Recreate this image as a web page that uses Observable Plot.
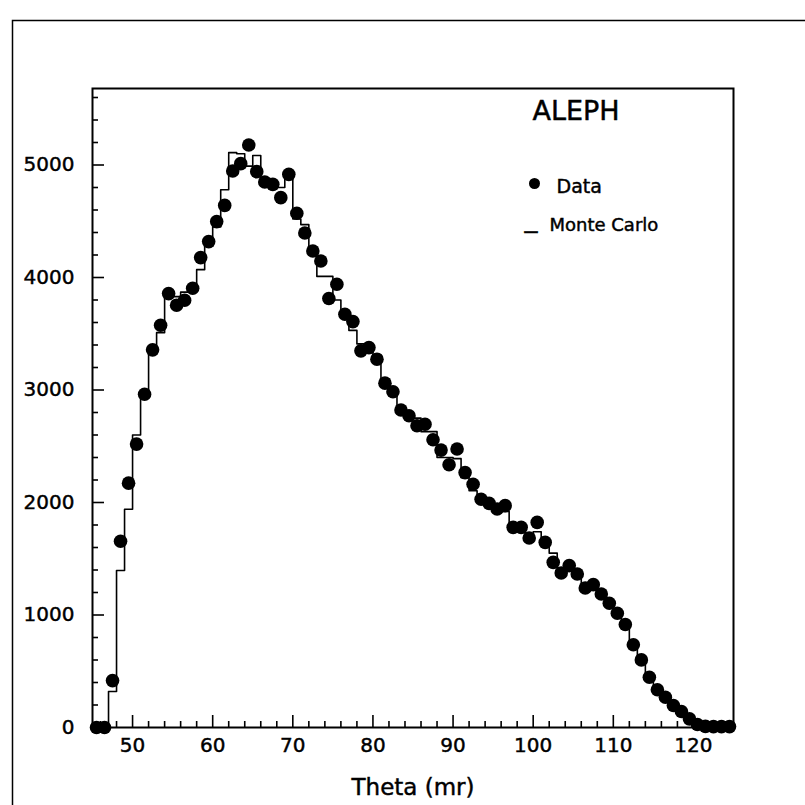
<!DOCTYPE html>
<html>
<head>
<meta charset="utf-8">
<script src="https://cdn.jsdelivr.net/npm/d3@7"></script>
<script src="https://cdn.jsdelivr.net/npm/@observablehq/plot@0.6"></script>
<style>
  html, body { margin: 0; padding: 0; background: #fff; }
  #chart svg { display: block; }
  #chart svg text { stroke: black; stroke-width: 0.45px; }
</style>
</head>
<body>
<div id="chart"></div>
<script>
// Bin centres (mr)
const thetaCenters = [45.5,46.5,47.5,48.5,49.5,50.5,51.5,52.5,53.5,54.5,55.5,56.5,57.5,58.5,59.5,60.5,61.5,62.5,63.5,64.5,65.5,66.5,67.5,68.5,69.5,70.5,71.5,72.5,73.5,74.5,75.5,76.5,77.5,78.5,79.5,80.5,81.5,82.5,83.5,84.5,85.5,86.5,87.5,88.5,89.5,90.5,91.5,92.5,93.5,94.5,95.5,96.5,97.5,98.5,99.5,100.5,101.5,102.5,103.5,104.5,105.5,106.5,107.5,108.5,109.5,110.5,111.5,112.5,113.5,114.5,115.5,116.5,117.5,118.5,119.5,120.5,121.5,122.5,123.5,124.5];

// Data (dots)
const dataCounts = [0,0,417,1655,2172,2519,2962,3357,3576,3857,3754,3798,3904,4177,4319,4497,4641,4947,5012,5178,4941,4849,4828,4710,4917,4571,4395,4236,4147,3813,3940,3673,3608,3348,3377,3274,3061,2984,2822,2771,2682,2695,2558,2466,2336,2475,2266,2162,2029,1992,1942,1972,1779,1779,1685,1823,1646,1468,1374,1439,1365,1240,1270,1187,1104,1015,915,735,601,447,335,269,195,142,77,27,10,8,8,8];

// Monte Carlo (histogram)
const mcCounts = [0,0,320,1395,1940,2600,2930,3320,3510,3850,3830,3870,3900,4070,4280,4450,4780,5110,5100,4990,5085,4860,4800,4800,4930,4520,4470,4270,4010,4010,3800,3700,3530,3410,3400,3270,3100,2960,2830,2780,2750,2630,2630,2400,2400,2390,2220,2105,2050,1990,1920,1920,1820,1800,1700,1740,1650,1550,1420,1400,1360,1270,1250,1180,1100,1000,950,760,600,450,350,270,200,140,80,30,15,10,5,5];

const binWidth = 1;
const xDomain = [45, 125];
const yDomain = [0, 5680];

const xMajorTicks = [50,60,70,80,90,100,110,120];
const xMinorTicks = [46,48,52,54,56,58,62,64,66,68,72,74,76,78,82,84,86,88,92,94,96,98,102,104,106,108,112,114,116,118,122,124];
const yMajorTicks = [0,1000,2000,3000,4000,5000];
const yMinorTicks = [200,400,600,800,1200,1400,1600,1800,2200,2400,2600,2800,3200,3400,3600,3800,4200,4400,4600,4800,5200,5400,5600];

const titleText = "ALEPH";
const xLabel = "Theta (mr)";
const legendLabels = ["Data", "Monte Carlo"];

// tables
const dataTable = thetaCenters.map((t, i) => ({theta: t, count: dataCounts[i]}));
const mcTable = thetaCenters.map((t, i) => ({edge: t - binWidth / 2, count: mcCounts[i]}));
mcTable.push({edge: thetaCenters[thetaCenters.length - 1] + binWidth / 2, count: mcCounts[mcCounts.length - 1]});

const W = 805, H = 805;
const mL = 92, mR = 72, mT = 88, mB = 78;
const frameH = H - mT - mB;
const frameW = W - mL - mR;

const font = "'DejaVu Sans', sans-serif";

const chart = Plot.plot({
  width: W,
  height: H,
  marginLeft: mL,
  marginRight: mR,
  marginTop: mT,
  marginBottom: mB,
  x: {domain: xDomain},
  y: {domain: yDomain},
  style: {fontFamily: font, fontSize: "20px", color: "black", background: "white"},
  marks: [
    // outer page border
    Plot.frame({stroke: "black", strokeWidth: 1.5, insetLeft: -80, insetTop: -68, insetRight: -100, insetBottom: -100}),
    // plot frame
    Plot.frame({stroke: "black", strokeWidth: 2}),
    // ticks (pointing inward)
    Plot.tickX(xMajorTicks, {x: d => d, insetTop: frameH - 12, stroke: "black", strokeWidth: 1.6}),
    Plot.tickX(xMinorTicks, {x: d => d, insetTop: frameH - 6, stroke: "black", strokeWidth: 1.6}),
    Plot.tickY(yMajorTicks, {y: d => d, insetRight: frameW - 12, stroke: "black", strokeWidth: 1.6}),
    Plot.tickY(yMinorTicks, {y: d => d, insetRight: frameW - 6, stroke: "black", strokeWidth: 1.6}),
    // tick labels
    Plot.axisX(xMajorTicks, {tickSize: 0, tickPadding: 10, fontSize: 20, label: null, tickFormat: "d"}),
    Plot.axisY(yMajorTicks, {tickSize: 0, tickPadding: 18, fontSize: 20, label: null, tickFormat: "d"}),
    // axis title
    Plot.text([xLabel], {frameAnchor: "bottom", dy: 67, lineAnchor: "bottom", fontSize: 23, fill: "black"}),
    // Monte Carlo histogram
    Plot.line(mcTable, {x: "edge", y: "count", curve: "step-after", stroke: "black", strokeWidth: 1.6}),
    // Data points
    Plot.dot(dataTable, {x: "theta", y: "count", r: 6.8, fill: "black", stroke: "none"}),
    // title + legend
    Plot.text([titleText], {frameAnchor: "top-left", dx: 440, dy: 31, textAnchor: "start", lineAnchor: "bottom", fontSize: 27, fill: "black"}),
    Plot.dot([legendLabels[0]], {frameAnchor: "top-left", dx: 442, dy: 95, r: 5.5, fill: "black", stroke: "none"}),
    Plot.text([legendLabels[0]], {frameAnchor: "top-left", dx: 464, dy: 104, textAnchor: "start", lineAnchor: "bottom", fontSize: 19, fill: "black"}),
    Plot.text(["_"], {frameAnchor: "top-left", dx: 432, dy: 138, textAnchor: "start", lineAnchor: "bottom", fontSize: 26, fill: "black"}),
    Plot.text([legendLabels[1]], {frameAnchor: "top-left", dx: 457, dy: 142, textAnchor: "start", lineAnchor: "bottom", fontSize: 18, fill: "black"})
  ]
});

document.getElementById("chart").appendChild(chart);
</script>
</body>
</html>
